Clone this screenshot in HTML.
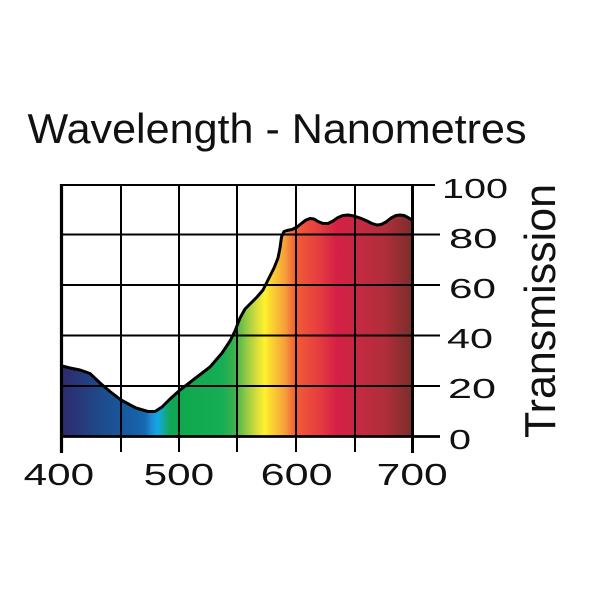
<!DOCTYPE html>
<html>
<head>
<meta charset="utf-8">
<style>
  html, body { margin: 0; padding: 0; background: #ffffff; }
  svg { display: block; }
  text { font-family: "Liberation Sans", Arial, Helvetica, sans-serif; fill: #111; }
</style>
</head>
<body>
<svg width="600" height="600" viewBox="0 0 600 600" xmlns="http://www.w3.org/2000/svg">
  <defs>
    <linearGradient id="spec" gradientUnits="userSpaceOnUse" x1="62" y1="0" x2="412" y2="0">
      <stop offset="0" stop-color="#2e2a6e"/>
      <stop offset="0.1086" stop-color="#1e4a8a"/>
      <stop offset="0.18" stop-color="#17599f"/>
      <stop offset="0.237" stop-color="#1668b0"/>
      <stop offset="0.257" stop-color="#1a90d4"/>
      <stop offset="0.274" stop-color="#12a8e8"/>
      <stop offset="0.291" stop-color="#14a89a"/>
      <stop offset="0.309" stop-color="#10a658"/>
      <stop offset="0.337" stop-color="#10a84e"/>
      <stop offset="0.457" stop-color="#16ad55"/>
      <stop offset="0.494" stop-color="#3cb24e"/>
      <stop offset="0.529" stop-color="#9acb45"/>
      <stop offset="0.557" stop-color="#d8dd3c"/>
      <stop offset="0.58" stop-color="#fff22c"/>
      <stop offset="0.597" stop-color="#fcd531"/>
      <stop offset="0.637" stop-color="#f6a03a"/>
      <stop offset="0.666" stop-color="#f35d36"/>
      <stop offset="0.737" stop-color="#e53b40"/>
      <stop offset="0.789" stop-color="#d41f46"/>
      <stop offset="0.851" stop-color="#c42a40"/>
      <stop offset="0.923" stop-color="#b02e3a"/>
      <stop offset="1" stop-color="#7a2e2c"/>
    </linearGradient>
  </defs>

  <rect x="0" y="0" width="600" height="600" fill="#ffffff"/>

  <!-- Title -->
  <text x="27.5" y="143" font-size="42" textLength="499" lengthAdjust="spacingAndGlyphs">Wavelength - Nanometres</text>

  <!-- Fill under curve -->
  <path fill="url(#spec)" d="M62,436.5 L62,366 L70,368 L80,370 L90,373.5 L100,383 L110,391.5 L121,400 L136,408 L148,411.5 L155,411.5 L162,407 L170,399 L180,390 L193,380 L210,367 L222,353 L226,347 L230,341 L235,331 L240,318 L245,309 L250,304 L257,297 L263,290 L268,280 L274,268 L278,258 L280,248 L281.5,237 L284,231.5 L287,230.5 L292,229.5 L297,227 L302,223 L306,220 L310,218.5 L314,219 L318,221.5 L323,223.5 L328,223.5 L333,221 L338,217.5 L343,215.5 L348,215 L354,216 L360,218 L366,220.5 L372,223.5 L377,225 L381,224.5 L386,222 L391,218 L396,215.5 L400,215 L404,215.5 L408,217.5 L412,220 L412,436.5 Z"/>

  <!-- Grid: horizontal -->
  <g stroke="#000" fill="none">
    <line x1="60" y1="185" x2="435" y2="185" stroke-width="2"/>
    <line x1="62" y1="234.5" x2="440" y2="234.5" stroke-width="1.9"/>
    <line x1="62" y1="285" x2="440" y2="285" stroke-width="1.9"/>
    <line x1="62" y1="335.5" x2="440" y2="335.5" stroke-width="1.9"/>
    <line x1="62" y1="386" x2="440" y2="386" stroke-width="1.9"/>
    <line x1="60" y1="436.5" x2="440" y2="436.5" stroke-width="2.8"/>
    <!-- vertical -->
    <line x1="121" y1="185" x2="121" y2="452" stroke-width="2"/>
    <line x1="179" y1="185" x2="179" y2="452" stroke-width="2"/>
    <line x1="237" y1="185" x2="237" y2="452" stroke-width="2"/>
    <line x1="296" y1="185" x2="296" y2="452" stroke-width="2"/>
    <line x1="355" y1="185" x2="355" y2="452" stroke-width="2"/>
    <line x1="61.5" y1="184" x2="61.5" y2="453" stroke-width="3.2"/>
    <line x1="412.5" y1="184" x2="412.5" y2="453" stroke-width="3"/>
  </g>

  <!-- Curve -->
  <polyline fill="none" stroke="#000" stroke-width="3" stroke-linejoin="round" stroke-linecap="round" points="62,366 70,368 80,370 90,373.5 100,383 110,391.5 121,400 136,408 148,411.5 155,411.5 162,407 170,399 180,390 193,380 210,367 222,353 226,347 230,341 235,331 240,318 245,309 250,304 257,297 263,290 268,280 274,268 278,258 280,248 281.5,237 284,231.5 287,230.5 292,229.5 297,227 302,223 306,220 310,218.5 314,219 318,221.5 323,223.5 328,223.5 333,221 338,217.5 343,215.5 348,215 354,216 360,218 366,220.5 372,223.5 377,225 381,224.5 386,222 391,218 396,215.5 400,215 404,215.5 408,217.5 412,220"/>

  <!-- X tick labels -->
  <text x="23.7" y="485" font-size="31" textLength="70.5" lengthAdjust="spacingAndGlyphs">400</text>
  <text x="143.7" y="485" font-size="31" textLength="70.5" lengthAdjust="spacingAndGlyphs">500</text>
  <text x="260.7" y="485" font-size="31" textLength="72" lengthAdjust="spacingAndGlyphs">600</text>
  <text x="376.7" y="485" font-size="31" textLength="71" lengthAdjust="spacingAndGlyphs">700</text>

  <!-- Y tick labels (right) -->
  <text x="442" y="198" font-size="28" textLength="66" lengthAdjust="spacingAndGlyphs">100</text>
  <text x="449" y="248" font-size="28" textLength="48.5" lengthAdjust="spacingAndGlyphs">80</text>
  <text x="449" y="298" font-size="28" textLength="47" lengthAdjust="spacingAndGlyphs">60</text>
  <text x="447" y="348" font-size="28" textLength="46" lengthAdjust="spacingAndGlyphs">40</text>
  <text x="448" y="398" font-size="28" textLength="48" lengthAdjust="spacingAndGlyphs">20</text>
  <text x="449" y="449" font-size="28" textLength="22" lengthAdjust="spacingAndGlyphs">0</text>

  <!-- Y axis title -->
  <text transform="translate(555,438) rotate(-90)" x="0" y="0" font-size="44" textLength="254" lengthAdjust="spacingAndGlyphs">Transmission</text>
</svg>
</body>
</html>
